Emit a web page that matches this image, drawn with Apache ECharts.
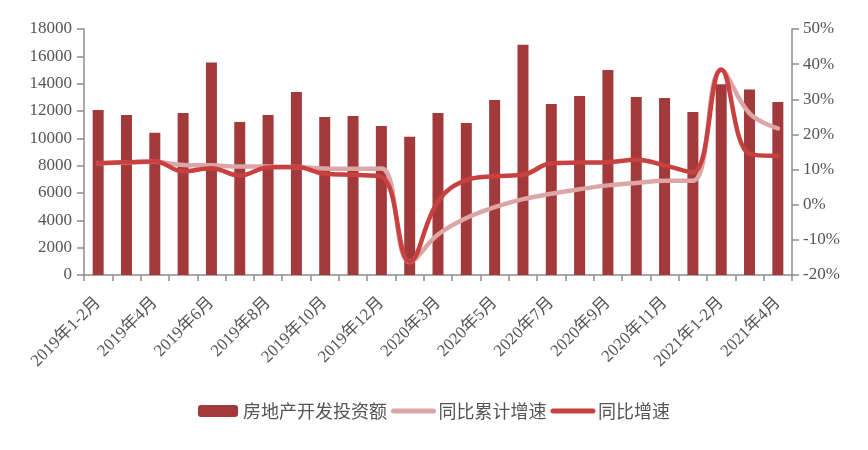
<!DOCTYPE html>
<html>
<head>
<meta charset="utf-8">
<script src="https://cdn.jsdelivr.net/npm/echarts@6/dist/echarts.min.js"></script>
<style>html,body{margin:0;padding:0;background:#fff;}#c{width:868px;height:450px;}</style>
</head>
<body>
<div id="c"></div>
<script>
var categories = [
  '2019年1-2月','2019年3月','2019年4月','2019年5月','2019年6月','2019年7月','2019年8月','2019年9月','2019年10月','2019年11月','2019年12月',
  '2020年1-2月','2020年3月','2020年4月','2020年5月','2020年6月','2020年7月','2020年8月','2020年9月','2020年10月','2020年11月','2020年12月',
  '2021年1-2月','2021年3月','2021年4月'
];
var investment = [12080,11710,10400,11860,15540,11200,11710,13390,11570,11640,10910,
  10110,11860,11130,12810,16850,12520,13100,15000,13030,12960,11930,
  13960,13570,12660];
var cumulativeGrowth = [11.8,12.0,12.2,11.3,11.2,10.9,10.9,10.7,10.3,10.2,10.3,
  -16.3,-8.5,-3.8,-0.7,1.6,3.1,4.4,5.5,6.2,6.8,6.8,
  38.3,26.0,21.7];
var monthlyGrowth = [11.8,12.1,12.3,9.5,10.4,8.3,10.6,10.7,8.8,8.5,8.0,
  -16.3,1.0,7.0,8.1,8.5,11.8,12.0,12.1,12.8,11.2,9.2,
  38.5,14.5,13.9];
var leftTicks = {min:0, max:18000, interval:2000};
var rightTicks = {min:-20, max:50, interval:10};

var axisColor = '#8c8c8c';
var textColor = '#555555';
var numFont = '"Liberation Serif", "Noto Sans CJK SC", serif';
var barColor = '#a23a3b';
var cumColor = '#dba6a5';
var monColor = '#c8403f';

var chart = echarts.init(document.getElementById('c'));
chart.setOption({
  backgroundColor: '#ffffff',
  animation: false,
  grid: {left: 84, right: 76, top: 29, bottom: 175, outerBoundsMode: 'none'},
  legend: {
    bottom: 25,
    left: 'center',
    itemWidth: 40,
    itemHeight: 12,
    itemGap: 4,
    lineStyle: {width: 5, cap: 'round'},
    textStyle: {fontSize: 18, color: textColor, fontFamily: '"Noto Sans CJK SC", sans-serif'},
    data: [
      {name: '房地产开发投资额'},
      {name: '同比累计增速', itemStyle: {color: 'rgba(0,0,0,0)', borderWidth: 0}},
      {name: '同比增速', itemStyle: {color: 'rgba(0,0,0,0)', borderWidth: 0}}
    ]
  },
  xAxis: {
    type: 'category',
    data: categories,
    axisLine: {lineStyle: {color: axisColor, width: 1.5}},
    axisTick: {show: true, interval: 0, length: 6, lineStyle: {color: axisColor, width: 1.5}},
    axisLabel: {interval: 1, rotate: 45, margin: 25, fontSize: 17, color: textColor, fontFamily: numFont}
  },
  yAxis: [{
    type: 'value',
    min: leftTicks.min, max: leftTicks.max, interval: leftTicks.interval,
    splitLine: {show: false},
    axisLine: {show: true, lineStyle: {color: axisColor, width: 1.5}},
    axisTick: {show: true, length: 7, lineStyle: {color: axisColor, width: 1.5}},
    axisLabel: {margin: 12, fontSize: 17, color: textColor, fontFamily: numFont,
      formatter: function (v) { return String(v); }}
  }, {
    type: 'value',
    position: 'right',
    min: rightTicks.min, max: rightTicks.max, interval: rightTicks.interval,
    splitLine: {show: false},
    axisLine: {show: true, lineStyle: {color: axisColor, width: 1.5}},
    axisTick: {show: true, length: 7, lineStyle: {color: axisColor, width: 1.5}},
    axisLabel: {margin: 11, fontSize: 17, color: textColor, fontFamily: numFont, formatter: '{value}%'}
  }],
  series: [{
    name: '房地产开发投资额',
    type: 'bar',
    data: investment,
    barWidth: 11,
    itemStyle: {color: barColor}
  }, {
    name: '同比累计增速',
    type: 'line',
    yAxisIndex: 1,
    data: cumulativeGrowth,
    smooth: 0.4,
    symbol: 'none',
    lineStyle: {width: 4.5, color: cumColor, cap: 'round'},
    itemStyle: {color: cumColor}
  }, {
    name: '同比增速',
    type: 'line',
    yAxisIndex: 1,
    data: monthlyGrowth,
    smooth: 0.4,
    symbol: 'none',
    lineStyle: {width: 4.5, color: monColor, cap: 'round'},
    itemStyle: {color: monColor}
  }]
});
</script>
</body>
</html>
